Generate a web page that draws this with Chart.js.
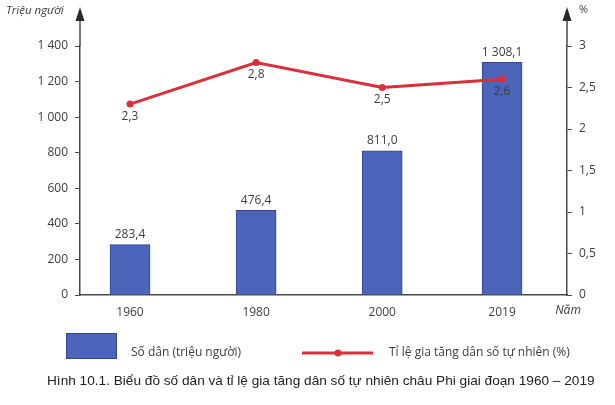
<!DOCTYPE html>
<html>
<head>
<meta charset="utf-8">
<script src="https://cdn.jsdelivr.net/npm/chart.js@4/dist/chart.umd.min.js"></script>
<style>
    html, body { margin: 0; padding: 0; background: #fff; }
    #wrap { width: 615px; height: 405px; }
</style>
</head>
<body>
<div id="wrap"><canvas id="chart" width="615" height="405"></canvas></div>
<script>
// Data
const years = [1960, 1980, 2000, 2019];
const population = [283.4, 476.4, 811.0, 1308.1];   // triệu người
const growthRate = [2.3, 2.8, 2.5, 2.6];             // %
const leftTicks = [0, 200, 400, 600, 800, 1000, 1200, 1400];
const rightTicks = [0, 0.5, 1, 1.5, 2, 2.5, 3];

const barColor = '#4a65b9';
const barEdge = '#34468a';
const lineColor = '#d9303b';
const axisColor = '#4a4a4a';
const textColor = '#3c3c3c';
const tickFont = { family: "'Open Sans', sans-serif", size: 12 };

// "1308.1" -> "1 308,1"
function fmt(v, digits) {
    let s = digits === undefined ? String(v) : v.toFixed(digits);
    let [int, dec] = s.split('.');
    int = int.replace(/\B(?=(\d{3})+(?!\d))/g, ' ');
    return dec ? int + ',' + dec : int;
}

// Value labels, axis arrows, axis titles, legend and caption
const decorPlugin = {
    id: 'decor',
    afterDatasetsDraw(chart) {
        const ctx = chart.ctx;
        ctx.save();
        ctx.fillStyle = textColor;
        ctx.font = "12px 'Open Sans', sans-serif";
        ctx.textAlign = 'center';

        // bar labels above the bars
        chart.getDatasetMeta(0).data.forEach((bar, i) => {
            ctx.textBaseline = 'bottom';
            ctx.fillText(fmt(population[i], 1), bar.x, bar.y - 4);
        });
        // line labels under the points
        chart.getDatasetMeta(1).data.forEach((pt, i) => {
            ctx.textBaseline = 'top';
            ctx.fillText(fmt(growthRate[i], 1), pt.x, pt.y + 6);
        });
        ctx.restore();
    },
    afterDraw(chart) {
        const ctx = chart.ctx;
        const area = chart.chartArea;
        ctx.save();

        // axis extensions with arrow heads
        [area.left, area.right].forEach(x => {
            ctx.strokeStyle = axisColor;
            ctx.lineWidth = 1.5;
            ctx.beginPath();
            ctx.moveTo(x, area.top);
            ctx.lineTo(x, 18);
            ctx.stroke();
            ctx.fillStyle = '#2a2a2a';
            ctx.beginPath();
            ctx.moveTo(x, 7);
            ctx.lineTo(x - 4.5, 21);
            ctx.lineTo(x + 4.5, 21);
            ctx.closePath();
            ctx.fill();
        });

        // axis titles
        ctx.fillStyle = textColor;
        ctx.textBaseline = 'middle';
        ctx.font = "italic 11.5px 'Open Sans', sans-serif";
        ctx.textAlign = 'left';
        ctx.fillText('Triệu người', 6, 11);
        ctx.font = "11px 'Open Sans', sans-serif";
        ctx.fillText('%', 579, 10);
        ctx.font = "italic 12px 'Open Sans', sans-serif";
        ctx.textAlign = 'center';
        ctx.fillText('Năm', 568, 311);

        // legend
        ctx.fillStyle = barColor;
        ctx.fillRect(66, 333, 51, 26);
        ctx.strokeStyle = barEdge;
        ctx.lineWidth = 1;
        ctx.strokeRect(66.5, 333.5, 50, 25);

        ctx.strokeStyle = lineColor;
        ctx.lineWidth = 3;
        ctx.beginPath();
        ctx.moveTo(302, 353);
        ctx.lineTo(373, 353);
        ctx.stroke();
        ctx.fillStyle = lineColor;
        ctx.beginPath();
        ctx.arc(338, 353, 3.5, 0, Math.PI * 2);
        ctx.fill();

        ctx.fillStyle = textColor;
        ctx.font = "12px 'Open Sans', sans-serif";
        ctx.textAlign = 'left';
        ctx.fillText('Số dân (triệu người)', 131, 353);
        ctx.fillText('Tỉ lệ gia tăng dân số tự nhiên (%)', 389, 353);

        // caption, sized to the reference width
        const caption = 'Hình 10.1. Biểu đồ số dân và tỉ lệ gia tăng dân số tự nhiên châu Phi giai đoạn 1960 – 2019';
        const fam = "'Liberation Sans Narrow', 'Liberation Sans', Arial, sans-serif";
        ctx.font = '14px ' + fam;
        let size = 14 * 548 / ctx.measureText(caption).width;
        size = Math.max(11, Math.min(15, size));
        ctx.font = size + 'px ' + fam;
        ctx.fillStyle = '#222';
        ctx.fillText(caption, 47, 381, 548);

        ctx.restore();
    }
};

new Chart(document.getElementById('chart'), {
    data: {
        datasets: [
            {
                type: 'bar',
                label: 'Số dân (triệu người)',
                data: years.map((y, i) => ({ x: y, y: population[i] })),
                yAxisID: 'y',
                backgroundColor: barColor,
                borderColor: barEdge,
                borderWidth: 1,
                barThickness: 40,
                order: 1
            },
            {
                type: 'line',
                label: 'Tỉ lệ gia tăng dân số tự nhiên (%)',
                data: years.map((y, i) => ({ x: y, y: growthRate[i] })),
                yAxisID: 'y1',
                borderColor: lineColor,
                backgroundColor: lineColor,
                borderWidth: 3,
                pointRadius: 3.5,
                pointBorderWidth: 0,
                pointHoverRadius: 3.5,
                tension: 0,
                order: 0
            }
        ]
    },
    options: {
        responsive: false,
        animation: false,
        layout: { padding: { top: 46, left: 0, right: 0, bottom: 0 } },
        plugins: {
            legend: { display: false },
            tooltip: { enabled: false }
        },
        scales: {
            x: {
                type: 'linear',
                offset: false,
                min: 1952.07,
                max: 2029.3,
                afterBuildTicks: s => { s.ticks = years.map(v => ({ value: v })); },
                afterFit: s => { s.height = 110; },
                ticks: {
                    color: textColor,
                    font: tickFont,
                    padding: 10,
                    maxRotation: 0,
                    callback: v => String(v)
                },
                grid: { drawOnChartArea: false, drawTicks: false, offset: false },
                border: { color: axisColor, width: 1.5 }
            },
            y: {
                position: 'left',
                min: 0,
                max: 1400,
                afterBuildTicks: s => { s.ticks = leftTicks.map(v => ({ value: v })); },
                afterFit: s => { s.width = 80; },
                ticks: {
                    color: textColor,
                    font: tickFont,
                    padding: 7,
                    callback: v => fmt(v)
                },
                grid: { drawOnChartArea: false, tickLength: 5, color: axisColor },
                border: { color: axisColor, width: 1.5 }
            },
            y1: {
                position: 'right',
                min: 0,
                max: 3,
                afterBuildTicks: s => { s.ticks = rightTicks.map(v => ({ value: v })); },
                afterFit: s => { s.width = 48; },
                ticks: {
                    color: textColor,
                    font: tickFont,
                    padding: 7,
                    callback: v => fmt(v)
                },
                grid: { drawOnChartArea: false, tickLength: 5, color: axisColor },
                border: { color: axisColor, width: 1.5 }
            }
        }
    },
    plugins: [decorPlugin]
});
</script>
</body>
</html>
